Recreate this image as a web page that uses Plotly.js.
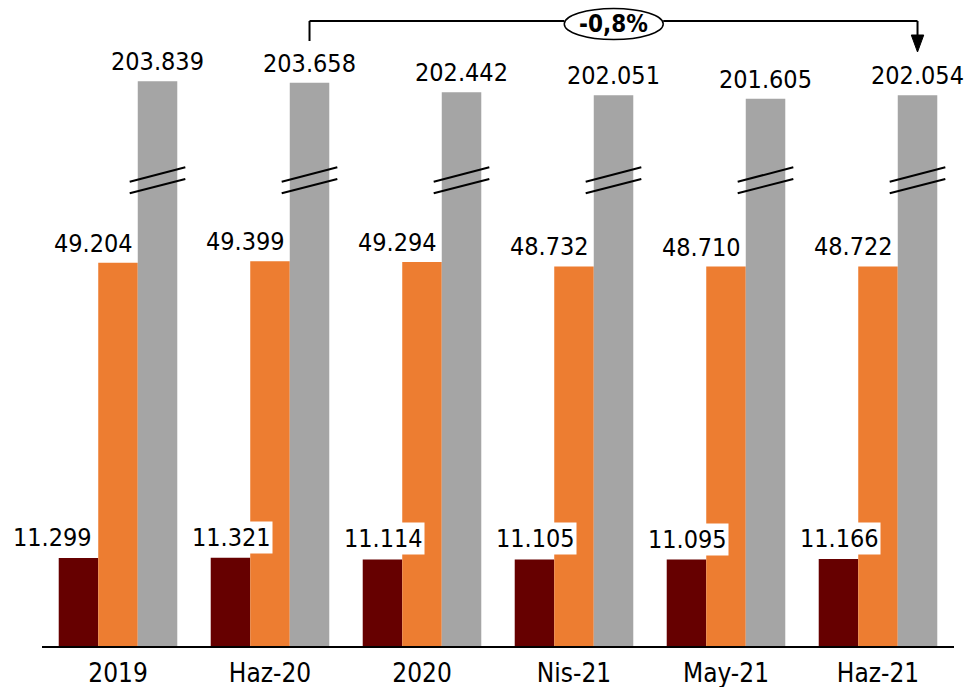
<!DOCTYPE html>
<html>
<head>
<meta charset="utf-8">
<script src="https://cdn.plot.ly/plotly-3.0.1.min.js"></script>
<style>
  html, body { margin: 0; padding: 0; background: #ffffff; }
  #chart { width: 969px; height: 687px; }
</style>
</head>
<body>
<div id="chart"></div>
<script>
// ---- Data ----
const categories = ['2019', 'Haz-20', '2020', 'Nis-21', 'May-21', 'Haz-21'];
const seriesDark = [11299, 11321, 11114, 11105, 11095, 11166];
const seriesOrange = [49204, 49399, 49294, 48732, 48710, 48722];
const seriesGray = [203839, 203658, 202442, 202051, 201605, 202054];
const changeLabel = '-0,8%';

// ---- Styling / layout constants ----
const FONT = '"DejaVu Sans Condensed", "DejaVu Sans", sans-serif';
const COL_DARK = '#660000';
const COL_ORANGE = '#ED7D31';
const COL_GRAY = '#A5A5A5';
const W = 969, H = 687;
const M = {l: 42, r: 15, t: 10, b: 41};
const plotH = H - M.t - M.b;             // 636 px
const PX_PER_UNIT = 0.00779;             // pixels per unit value
const YMAX = plotH / PX_PER_UNIT;
const BREAK_BASE = 131350;               // broken-axis offset for gray bars
const BW = 0.26;                         // bar width (category units)

function fmt(v) {
  const s = Math.round(v).toString();
  return s.replace(/\B(?=(\d{3})+(?!\d))/g, '.');
}
// convert pixel row (from top of page) into paper y
function py(px) { return (H - M.b - px) / plotH; }

const idx = categories.map((c, i) => i);

const traces = [
  {type: 'bar', name: 'A', x: categories, y: seriesDark, marker: {color: COL_DARK},
   width: BW, offset: -1.5 * BW, hoverinfo: 'skip'},
  {type: 'bar', name: 'B', x: categories, y: seriesOrange, marker: {color: COL_ORANGE},
   width: BW, offset: -0.5 * BW, hoverinfo: 'skip'},
  {type: 'bar', name: 'C', x: categories, y: seriesGray, yaxis: 'y2', marker: {color: COL_GRAY},
   width: BW, offset: 0.5 * BW, hoverinfo: 'skip'}
];

const annotations = [];
const labelFont = {family: FONT, size: 25, color: '#000000'};
idx.forEach(i => {
  annotations.push({
    x: i - BW, y: seriesDark[i], xref: 'x', yref: 'y', text: fmt(seriesDark[i]),
    showarrow: false, yanchor: 'bottom', xanchor: 'center', yshift: 4,
    xshift: i === 0 ? -26 : 1,
    bgcolor: '#ffffff', borderpad: 1, font: labelFont
  });
  annotations.push({
    x: i, y: seriesOrange[i], xref: 'x', yref: 'y', text: fmt(seriesOrange[i]),
    showarrow: false, yanchor: 'bottom', xanchor: 'center', yshift: 3, xshift: -25,
    font: labelFont
  });
  annotations.push({
    x: i + BW, y: seriesGray[i], xref: 'x', yref: 'y2', text: fmt(seriesGray[i]),
    showarrow: false, yanchor: 'bottom', xanchor: 'center', yshift: 3,
    font: labelFont
  });
});

// change label inside ellipse
const xFrom = 1 + BW, xTo = 5 + BW;
const ellX0 = 2.936, ellX1 = 3.587;
annotations.push({
  x: (ellX0 + ellX1) / 2, y: py(24), xref: 'x', yref: 'paper', text: '<b>' + changeLabel + '</b>',
  showarrow: false, xanchor: 'center', yanchor: 'middle',
  font: {family: FONT, size: 24, color: '#000000'}
});

const shapes = [];
// break marks on gray bars
idx.forEach(i => {
  const x0 = i + 0.5 * BW - 0.053, x1 = i + 1.5 * BW + 0.053;
  shapes.push({type: 'line', xref: 'x', yref: 'paper', x0: x0, x1: x1, y0: py(181.7), y1: py(167.3),
    line: {color: '#000000', width: 2}});
  shapes.push({type: 'line', xref: 'x', yref: 'paper', x0: x0, x1: x1, y0: py(193.3), y1: py(179),
    line: {color: '#000000', width: 2}});
});
// bracket
const lineStyle = {color: '#000000', width: 2};
shapes.push({type: 'line', xref: 'x', yref: 'paper', x0: xFrom, x1: xFrom, y0: py(41), y1: py(21), line: lineStyle});
shapes.push({type: 'line', xref: 'x', yref: 'paper', x0: xFrom, x1: ellX0, y0: py(21), y1: py(21), line: lineStyle});
shapes.push({type: 'line', xref: 'x', yref: 'paper', x0: ellX1, x1: xTo, y0: py(21), y1: py(21), line: lineStyle});
shapes.push({type: 'line', xref: 'x', yref: 'paper', x0: xTo, x1: xTo, y0: py(21), y1: py(36), line: lineStyle});
shapes.push({type: 'path', xref: 'x', yref: 'paper',
  path: 'M ' + (xTo - 0.041) + ' ' + py(35) + ' L ' + (xTo + 0.041) + ' ' + py(35) + ' L ' + xTo + ' ' + py(52) + ' Z',
  fillcolor: '#000000', line: {color: '#000000', width: 1}});
shapes.push({type: 'circle', xref: 'x', yref: 'paper', x0: ellX0, x1: ellX1, y0: py(39.5), y1: py(8.5),
  fillcolor: '#ffffff', line: {color: '#000000', width: 1.5}});

const layout = {
  width: W, height: H,
  margin: M,
  paper_bgcolor: '#ffffff', plot_bgcolor: '#ffffff',
  showlegend: false,
  barmode: 'group',
  xaxis: {
    type: 'category', range: [-0.5, categories.length - 0.5],
    showline: true, linecolor: '#000000', linewidth: 2,
    showgrid: false, zeroline: false, ticks: '', ticklabelstandoff: 3,
    tickfont: {family: FONT, size: 26, color: '#000000'},
    fixedrange: true
  },
  yaxis: {range: [0, YMAX], visible: false, showgrid: false, zeroline: false, fixedrange: true},
  yaxis2: {range: [BREAK_BASE, BREAK_BASE + YMAX], overlaying: 'y', visible: false,
           showgrid: false, zeroline: false, fixedrange: true},
  annotations: annotations,
  shapes: shapes
};

Plotly.newPlot('chart', traces, layout, {displayModeBar: false, staticPlot: true});
</script>
</body>
</html>
